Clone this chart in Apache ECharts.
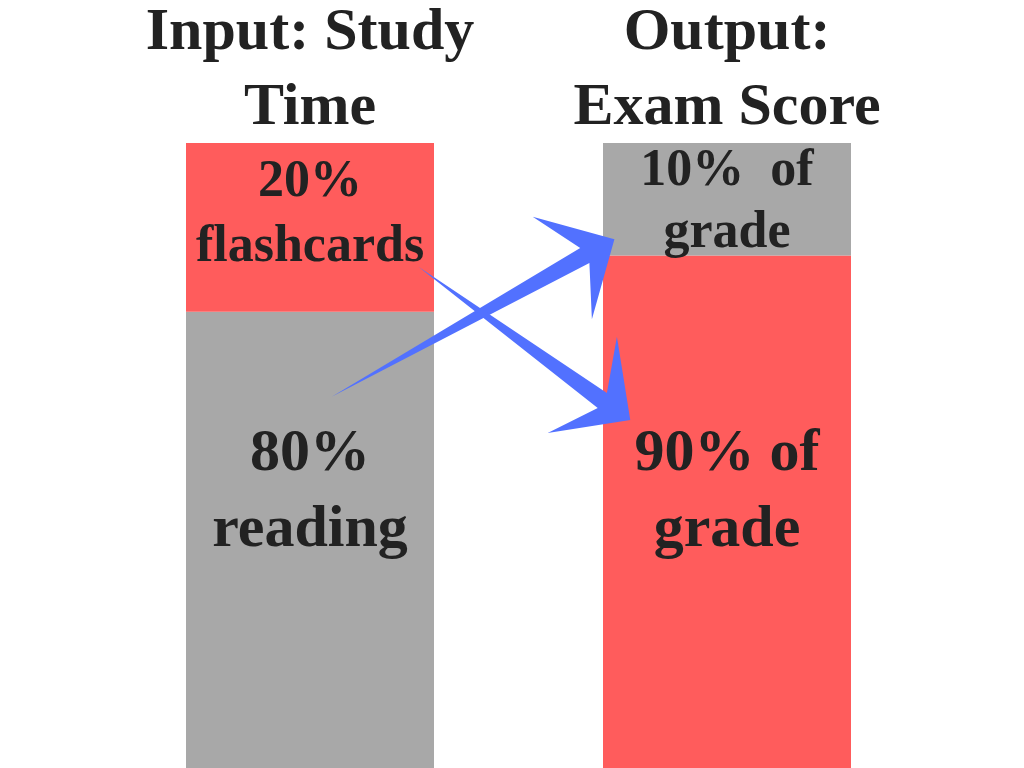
<!DOCTYPE html>
<html>
<head>
<meta charset="utf-8" />
<style>
  html, body { margin: 0; padding: 0; background: #fff; }
  #chart { width: 1024px; height: 768px; }
</style>
<script src="https://cdn.jsdelivr.net/npm/echarts@6/dist/echarts.min.js"></script>
</head>
<body>
<div id="chart"></div>
<script>
const categories = ["Input: Study\nTime", "Output:\nExam Score"];
// share of the bar, bottom segment then top segment (as drawn)
const lowerValues = [73, 82];
const upperValues = [27, 18];
const lowerLabels = ["80%\nreading", "90% of\ngrade"];
const upperLabels = ["20%\nflashcards", "10%  of\ngrade"];

// arrows in (x % of plot width, y % of bar height): tail, notch, barb, tip, barb, notch
const arrowUp = [[27.6, 59.4], [57.4, 83.2], [51.7, 88.2], [61.5, 84.6], [58.8, 71.8], [58.5, 80.8]];
const arrowDown = [[38.0, 80.2], [60.6, 60.0], [61.8, 69.0], [63.4, 55.7], [53.5, 53.6], [59.5, 57.6]];

const RED = "#ff5c5c";
const GRAY = "#a8a8a8";
const BLUE = "#5271ff";
const INK = "#222222";
const FONT = "Liberation Serif";

const chart = echarts.init(document.querySelector("#chart"));

function segLabel(text, size, lineHeight, dy) {
  return {
    show: true,
    position: "inside",
    offset: [0, dy],
    formatter: text,
    color: INK,
    fontFamily: FONT,
    fontWeight: "bold",
    fontSize: size,
    lineHeight: lineHeight,
  };
}

chart.setOption({
  animation: false,
  backgroundColor: "#ffffff",
  grid: { left: 101.5, right: 88.5, top: 143, bottom: 0, containLabel: false, outerBoundsMode: "none" },
  xAxis: [
    {
      type: "category",
      position: "top",
      data: categories,
      axisLine: { show: false },
      axisTick: { show: false },
      axisLabel: {
        interval: 0,
        hideOverlap: false,
        color: INK,
        fontFamily: FONT,
        fontWeight: "bold",
        fontSize: 60,
        lineHeight: 75,
        margin: -3,
      },
    },
    { type: "value", min: 0, max: 100, show: false },
  ],
  yAxis: { type: "value", min: 0, max: 100, show: false },
  series: [
    {
      name: "lower",
      type: "bar",
      stack: "total",
      barWidth: 248,
      data: lowerValues.map((v, i) => ({
        value: v,
        itemStyle: { color: i === 0 ? GRAY : RED },
        label: segLabel(lowerLabels[i], 60, 76, i === 0 ? -47 : -19),
      })),
    },
    {
      name: "upper",
      type: "bar",
      stack: "total",
      barWidth: 248,
      data: upperValues.map((v, i) => ({
        value: v,
        itemStyle: { color: i === 0 ? RED : GRAY },
        label: segLabel(upperLabels[i], 52, i === 0 ? 65 : 62, i === 0 ? -12 : 3),
      })),
    },
    {
      type: "custom",
      xAxisIndex: 1,
      z: 10,
      data: [0, 1],
      renderItem: (params, api) => {
        const pts = [arrowUp, arrowDown][params.dataIndex].map((p) => api.coord(p));
        return { type: "polygon", shape: { points: pts }, style: { fill: BLUE } };
      },
    },
  ],
});
</script>
</body>
</html>
